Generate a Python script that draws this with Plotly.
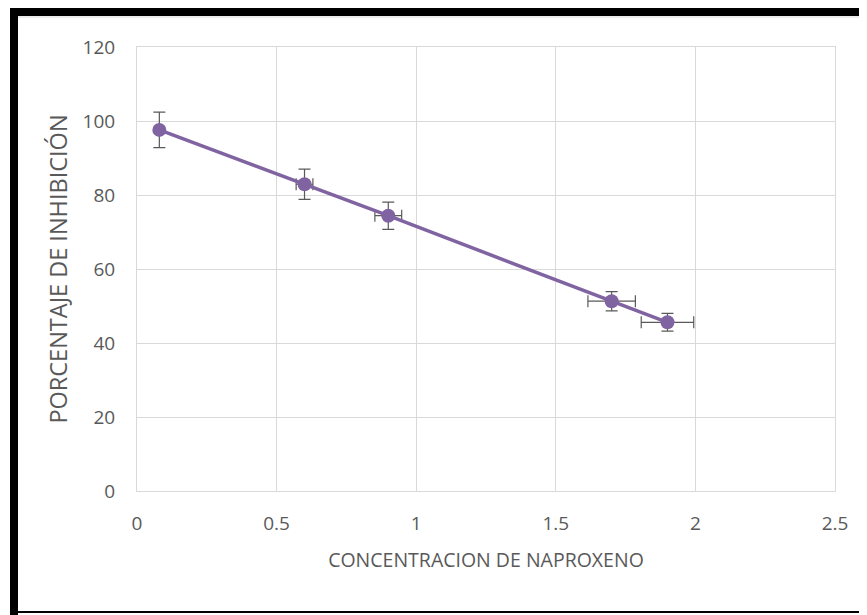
import plotly.graph_objects as go

# Data
concentracion = [0.08, 0.60, 0.90, 1.70, 1.90]
inhibicion = [97.6, 82.9, 74.4, 51.3, 45.6]
error_y_vals = [4.8, 4.1, 3.7, 2.6, 2.4]
error_x_vals = [0.01, 0.03, 0.048, 0.085, 0.094]

x_ticks = [0, 0.5, 1, 1.5, 2, 2.5]
x_tick_labels = ["0", "0.5", "1", "1.5", "2", "2.5"]
y_ticks = [0, 20, 40, 60, 80, 100, 120]

# page body has an 8px margin, so the figure is offset by 8px
OFF = 8
W, H = 867 - OFF, 615 - OFF
L, R, T, B = 137 - OFF, 32, 47 - OFF, 124
pw, ph = W - L - R, H - T - B

def px(xp):
    return (xp - OFF - L) / pw

def py(yp):
    return (H - B - (yp - OFF)) / ph

purple = "#8064A2"
grid = "#D9D9D9"
txt = "#595959"
FONT = "Open Sans, sans-serif"

fig = go.Figure()
fig.add_trace(go.Scatter(
    x=concentracion, y=inhibicion,
    mode="lines+markers",
    line=dict(color=purple, width=3.5),
    marker=dict(color=purple, size=14),
    error_y=dict(type="data", array=error_y_vals, color=txt, thickness=1.2, width=6),
    error_x=dict(type="data", array=error_x_vals, color=txt, thickness=1.2, width=6),
    showlegend=False,
    hoverinfo="x+y",
))

shapes = [
    # top black bar
    dict(type="rect", xref="paper", yref="paper", x0=px(10), x1=px(880), y0=py(16), y1=py(8),
         fillcolor="black", line=dict(width=0)),
    # thin gray line under top bar
    dict(type="line", xref="paper", yref="paper", x0=px(18), x1=px(880), y0=py(17), y1=py(17),
         line=dict(color="#D9D9D9", width=1)),
    # left black bar
    dict(type="rect", xref="paper", yref="paper", x0=px(10), x1=px(18), y0=py(620), y1=py(8),
         fillcolor="black", line=dict(width=0)),
    # bottom thin black line
    dict(type="line", xref="paper", yref="paper", x0=px(10), x1=px(880), y0=py(612), y1=py(612),
         line=dict(color="black", width=2)),
]

fig.update_layout(
    width=W, height=H,
    margin=dict(l=L, r=R, t=T, b=B),
    paper_bgcolor="white", plot_bgcolor="white",
    font=dict(family=FONT, color=txt),
    shapes=shapes,
    xaxis=dict(
        range=[0, 2.5], tickvals=x_ticks, ticktext=x_tick_labels,
        showgrid=True, gridcolor=grid, gridwidth=1,
        showline=True, linecolor=grid, linewidth=1, mirror=True,
        zeroline=False, ticks="", ticklabelstandoff=15,
        tickfont=dict(size=19, color=txt, family=FONT),
        title=dict(text="CONCENTRACION DE NAPROXENO", font=dict(size=19.5, color=txt, family=FONT), standoff=18),
    ),
    yaxis=dict(
        range=[0, 120], tickvals=y_ticks,
        showgrid=True, gridcolor=grid, gridwidth=1,
        showline=True, linecolor=grid, linewidth=1, mirror=True,
        zeroline=False, ticks="", ticklabelstandoff=17,
        tickfont=dict(size=19, color=txt, family=FONT),
        title=dict(text="PORCENTAJE DE INHIBICIÓN", font=dict(size=23.5, color=txt, family=FONT), standoff=8),
    ),
)

fig.write_html("out.html")
